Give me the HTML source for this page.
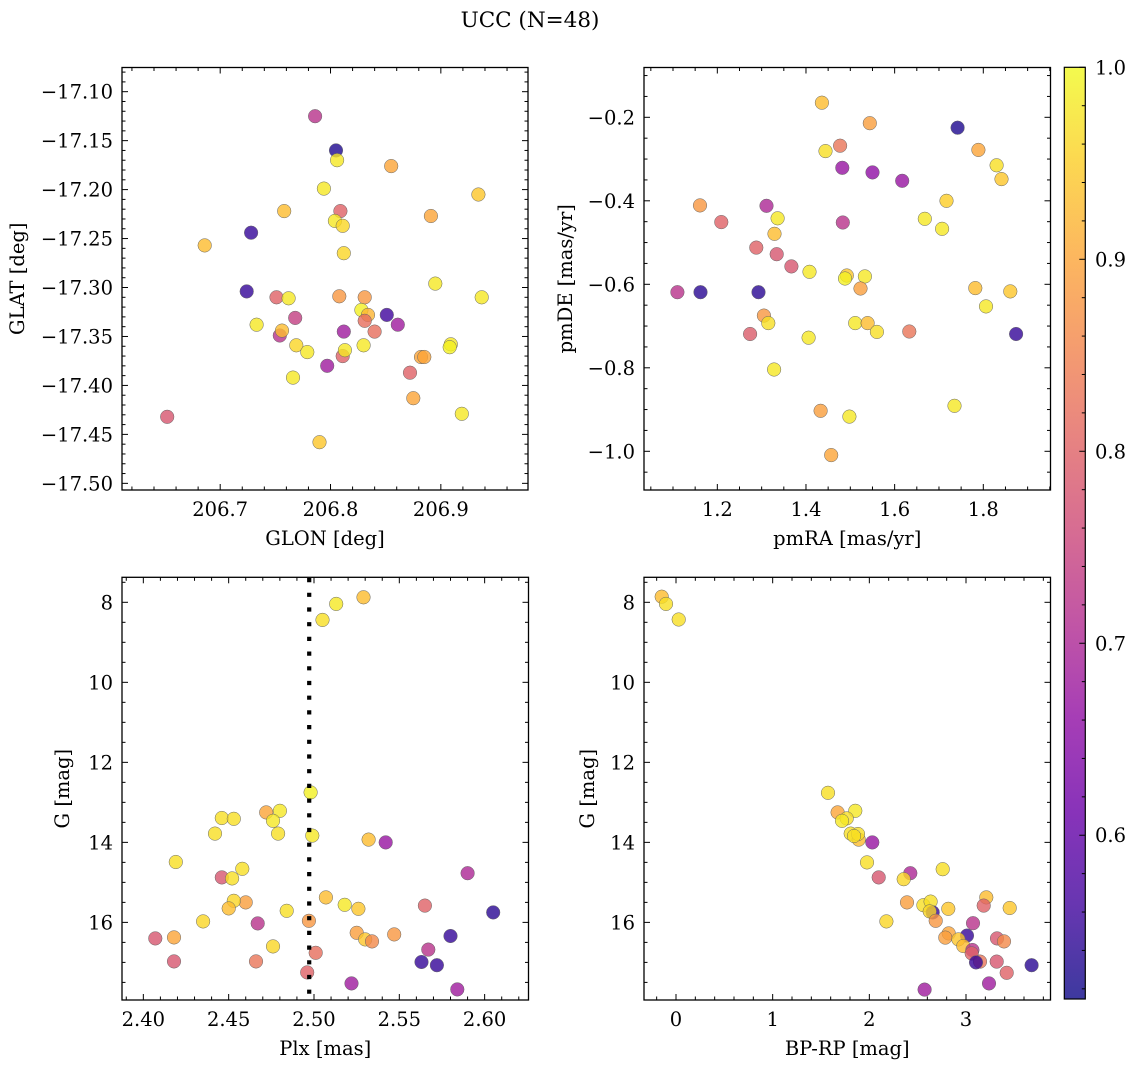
<!DOCTYPE html>
<html><head><meta charset="utf-8">
<style>
html,body{margin:0;padding:0;background:#fff;}
svg{display:block;font-family:"DejaVu Serif","Liberation Serif",serif;}
</style></head>
<body>
<svg id="fig" width="1136" height="1067" viewBox="0 0 1136 1067" xmlns="http://www.w3.org/2000/svg">
<rect width="1136" height="1067" fill="#fff"/>
<text x="530" y="27" font-size="21.5" text-anchor="middle">UCC (N=48)</text>
</svg>
<script>
// ---- data ----
const glon = [206.786,206.805,206.806,206.855,206.794,206.934,206.758,206.809,206.804,206.811,206.891,206.728,206.686,206.812,206.724,206.751,206.762,206.808,206.831,206.895,206.937,206.828,206.834,206.831,206.851,206.861,206.840,206.812,206.768,206.733,206.754,206.756,206.769,206.779,206.811,206.813,206.830,206.797,206.766,206.882,206.885,206.909,206.908,206.872,206.875,206.919,206.652,206.790];
const glat = [-17.125,-17.160,-17.170,-17.176,-17.199,-17.205,-17.222,-17.222,-17.232,-17.237,-17.227,-17.244,-17.257,-17.265,-17.304,-17.310,-17.311,-17.309,-17.310,-17.296,-17.310,-17.323,-17.328,-17.334,-17.328,-17.338,-17.345,-17.345,-17.331,-17.338,-17.349,-17.344,-17.359,-17.366,-17.370,-17.364,-17.359,-17.380,-17.392,-17.371,-17.371,-17.358,-17.361,-17.387,-17.413,-17.429,-17.432,-17.458];
const probA = [0.72,0.53,0.98,0.9,0.98,0.94,0.93,0.8,0.98,0.96,0.9,0.55,0.93,0.96,0.55,0.8,0.98,0.88,0.88,0.98,0.98,0.99,0.92,0.82,0.56,0.68,0.82,0.68,0.74,0.98,0.72,0.93,0.96,0.98,0.8,0.98,0.98,0.68,0.98,0.9,0.9,0.98,0.99,0.8,0.9,0.98,0.78,0.94];

const pmra = [1.436,1.544,1.742,1.477,1.444,1.789,1.830,1.841,1.482,1.550,1.617,1.717,1.161,1.311,1.336,1.209,1.483,1.668,1.707,1.329,1.288,1.334,1.367,1.408,1.492,1.488,1.533,1.523,1.782,1.861,1.110,1.162,1.293,1.806,1.305,1.315,1.511,1.539,1.560,1.633,1.274,1.874,1.406,1.328,1.433,1.735,1.498,1.457];
const pmde = [-0.165,-0.214,-0.225,-0.268,-0.281,-0.278,-0.315,-0.348,-0.321,-0.332,-0.352,-0.400,-0.411,-0.412,-0.442,-0.451,-0.452,-0.443,-0.467,-0.479,-0.512,-0.528,-0.557,-0.570,-0.579,-0.586,-0.581,-0.610,-0.609,-0.617,-0.619,-0.619,-0.619,-0.653,-0.675,-0.693,-0.693,-0.693,-0.714,-0.713,-0.719,-0.719,-0.728,-0.804,-0.903,-0.891,-0.917,-1.009];
const probB = [0.93,0.89,0.53,0.83,0.97,0.9,0.97,0.94,0.67,0.66,0.67,0.95,0.88,0.7,0.98,0.8,0.72,0.98,0.98,0.93,0.8,0.78,0.78,0.98,0.94,0.99,0.98,0.89,0.93,0.94,0.72,0.54,0.54,0.98,0.88,0.97,0.98,0.93,0.97,0.83,0.79,0.55,0.98,0.98,0.89,0.98,0.98,0.9];

const plx = [2.529,2.513,2.505,2.498,2.472,2.480,2.476,2.446,2.453,2.442,2.479,2.499,2.532,2.542,2.419,2.590,2.446,2.452,2.458,2.507,2.460,2.453,2.450,2.518,2.526,2.484,2.565,2.605,2.497,2.435,2.467,2.407,2.418,2.525,2.530,2.534,2.547,2.580,2.476,2.501,2.567,2.418,2.466,2.563,2.572,2.496,2.522,2.584];
const gmagC = [7.875,8.04,8.44,12.75,13.25,13.21,13.46,13.39,13.41,13.78,13.78,13.83,13.93,14.0,14.49,14.77,14.875,14.9,14.66,15.375,15.5,15.46,15.65,15.56,15.66,15.71,15.58,15.75,15.96,15.975,16.025,16.4,16.375,16.26,16.425,16.475,16.3,16.34,16.6,16.76,16.68,16.975,16.975,16.99,17.07,17.25,17.525,17.675];
const probC = [0.93,0.98,0.97,0.99,0.9,0.98,0.98,0.97,0.97,0.97,0.97,0.98,0.93,0.67,0.97,0.7,0.78,0.97,0.97,0.93,0.89,0.96,0.93,0.98,0.94,0.97,0.8,0.54,0.88,0.96,0.72,0.78,0.9,0.89,0.94,0.86,0.88,0.55,0.96,0.82,0.72,0.78,0.83,0.55,0.55,0.8,0.68,0.68];
const plxRef = 2.4972;

const bprp = [-0.148,-0.103,0.028,1.572,1.672,1.855,1.766,1.717,1.807,1.890,1.883,1.841,2.031,1.976,2.097,2.424,2.355,2.759,2.390,2.559,2.634,2.655,2.624,2.817,2.686,2.176,3.210,3.183,3.452,3.072,3.010,2.821,2.786,2.921,2.972,3.321,3.393,3.066,3.059,3.145,3.103,3.317,3.679,3.421,3.238,2.572];
const gmagD = [7.86,8.04,8.43,12.76,13.25,13.21,13.4,13.46,13.78,13.93,13.79,13.84,14.0,14.5,14.875,14.77,14.92,14.67,15.5,15.57,15.48,15.75,15.725,15.66,15.96,15.975,15.375,15.58,15.64,16.02,16.33,16.275,16.38,16.425,16.59,16.4,16.475,16.69,16.775,16.98,17.0,16.98,17.07,17.26,17.525,17.68];
const probD = [0.93,0.97,0.97,0.97,0.9,0.98,0.97,0.98,0.97,0.93,0.97,0.97,0.67,0.97,0.78,0.7,0.96,0.97,0.89,0.97,0.97,0.55,0.96,0.94,0.88,0.96,0.93,0.8,0.94,0.72,0.55,0.9,0.89,0.94,0.93,0.78,0.86,0.72,0.8,0.83,0.55,0.78,0.54,0.8,0.68,0.68];

const ticksA_x = [206.7,206.8,206.9], ticksA_y = [-17.10,-17.15,-17.20,-17.25,-17.30,-17.35,-17.40,-17.45,-17.50];
const ticksB_x = [1.2,1.4,1.6,1.8], ticksB_y = [-0.2,-0.4,-0.6,-0.8,-1.0];
const ticksC_x = [2.40,2.45,2.50,2.55,2.60], ticksG = [8,10,12,14,16];
const ticksD_x = [0,1,2,3];
const cbTicks = [0.6,0.7,0.8,0.9,1.0];
const cbMin = 0.5147, cbMax = 1.0;

// ---- helpers ----
const NS = "http://www.w3.org/2000/svg";
const svg = document.getElementById('fig');
const FS = 19.5;
function mk(tag, attrs, parent){ const e=document.createElementNS(NS,tag); for(const k in attrs) e.setAttribute(k,attrs[k]); (parent||svg).appendChild(e); return e; }
const plasma = [[13,8,135],[65,4,157],[106,0,168],[143,13,164],[177,42,144],[204,71,120],[225,100,98],[242,132,75],[252,166,54],[252,206,37],[240,249,33]];
function cmap(v){ let t=(v-cbMin)/(cbMax-cbMin); t=Math.max(0,Math.min(1,t)); const f=t*10, i=Math.min(9,Math.floor(f)), r=f-i; const a=plasma[i], b=plasma[i+1]; return `rgb(${Math.round(a[0]+(b[0]-a[0])*r)},${Math.round(a[1]+(b[1]-a[1])*r)},${Math.round(a[2]+(b[2]-a[2])*r)})`; }
function fmt(v, d){ const s=Math.abs(v).toFixed(d); return (v<0?'\u2212':'')+s; }

function panel(name, box, xd, yd, xt, yt, xminor, yminor, xdec, ydec, xs, ys, ps, xlabel, ylabel){
  const g = mk('g',{});
  
  
  const X = v => box.x0 + (v-xd[0])/(xd[1]-xd[0])*(box.x1-box.x0);
  const Y = v => box.y0 + (v-yd[0])/(yd[1]-yd[0])*(box.y1-box.y0);
  const pg = mk('g',{},g);
  
  
  for(let i=0;i<xs.length;i++){
    const c = mk('circle',{cx:X(xs[i]).toFixed(1), cy:Y(ys[i]).toFixed(1), r:6.8, fill:cmap(ps[i]), 'fill-opacity':0.8, stroke:'#666', 'stroke-width':0.5}, pg);
    
    
  }
  const fr = mk('rect',{x:box.x0,y:box.y0,width:box.x1-box.x0,height:box.y1-box.y0,fill:'none',stroke:'#000','stroke-width':1.3},g);
  
  
  const tg = mk('g',{stroke:'#000','stroke-width':1},g);
  const xlo=Math.min(xd[0],xd[1]), xhi=Math.max(xd[0],xd[1]), ylo=Math.min(yd[0],yd[1]), yhi=Math.max(yd[0],yd[1]);
  for(let k=Math.ceil(xlo/xminor-1e-6); k*xminor<=xhi+1e-9; k++){
    const v=k*xminor, px=X(v);
    const major = xt.some(t=>Math.abs(t-v)<xminor/10);
    const L = major?6:3.5;
    mk('line',{x1:px,y1:box.y1,x2:px,y2:box.y1-L},tg); mk('line',{x1:px,y1:box.y0,x2:px,y2:box.y0+L},tg);
  }
  for(let k=Math.ceil(ylo/yminor-1e-6); k*yminor<=yhi+1e-9; k++){
    const v=k*yminor, py=Y(v);
    const major = yt.some(t=>Math.abs(t-v)<yminor/10);
    const L = major?6:3.5;
    mk('line',{x1:box.x0,y1:py,x2:box.x0+L,y2:py},tg); mk('line',{x1:box.x1,y1:py,x2:box.x1-L,y2:py},tg);
  }
  xt.forEach(v=>{ const t=mk('text',{x:X(v),y:box.y1+26,'font-size':FS,'text-anchor':'middle'},g); t.textContent=fmt(v,xdec);   });
  yt.forEach(v=>{ const t=mk('text',{x:box.x0-9,y:Y(v)+7,'font-size':FS,'text-anchor':'end'},g); t.textContent=fmt(v,ydec);   });
  const xl=mk('text',{x:(box.x0+box.x1)/2,y:box.y1+55,'font-size':FS,'text-anchor':'middle'},g); xl.textContent=xlabel;
   
  const yx = box.ylabx, yy=(box.y0+box.y1)/2;
  const yl=mk('text',{x:yx,y:yy,'font-size':FS,'text-anchor':'middle',transform:`rotate(-90 ${yx} ${yy})`},g); yl.textContent=ylabel;
   
  return {X,Y,g};
}

panel('glon-glat-panel',{x0:122,x1:528,y0:67.5,y1:490,ylabx:24},[206.611,206.979],[-17.0753,-17.5068],ticksA_x,ticksA_y,0.02,0.01,1,2,glon,glat,probA,'GLON [deg]','GLAT [deg]');
panel('pm-panel',{x0:644,x1:1050.5,y0:67.5,y1:490,ylabx:572},[1.0346,1.9516],[-0.0807,-1.0927],ticksB_x,ticksB_y,0.05,0.05,1,1,pmra,pmde,probB,'pmRA [mas/yr]','pmDE [mas/yr]');
const pc = panel('plx-g-panel',{x0:122,x1:528.5,y0:577.3,y1:1000,ylabx:69},[2.3875,2.6257],[7.375,17.94],ticksC_x,ticksG,0.01,0.5,2,0,plx,gmagC,probC,'Plx [mas]','G [mag]');
panel('cmd-panel',{x0:644,x1:1050.5,y0:577.3,y1:1000,ylabx:594},[-0.331,3.874],[7.375,17.94],ticksD_x,ticksG,0.2,0.5,0,0,bprp,gmagD,probD,'BP-RP [mag]','G [mag]');

const rl = mk('line',{x1:pc.X(plxRef),x2:pc.X(plxRef),y1:578,y2:1000,stroke:'#000','stroke-width':4.2,'stroke-dasharray':'4.2 10.5'});



const cb = {x0:1064.3,x1:1085.3,y0:67.3,y1:999};
const defs = mk('defs',{});
const grad = mk('linearGradient',{id:'cbg',x1:0,y1:1,x2:0,y2:0},defs);
for(let i=0;i<=20;i++){ const v=cbMin+(cbMax-cbMin)*i/20; mk('stop',{offset:(i/20),'stop-color':cmap(v),'stop-opacity':0.8},grad); }
const cbr = mk('rect',{x:cb.x0,y:cb.y0,width:cb.x1-cb.x0,height:cb.y1-cb.y0,fill:'url(#cbg)',stroke:'#000','stroke-width':1.2});


const CY = v => cb.y0 + (cbMax-v)/(cbMax-cbMin)*(cb.y1-cb.y0);
for(let k=26;k<=50;k++){ const v=k*0.02; if(v<cbMin) continue; const major = Math.abs(v*10-Math.round(v*10))<1e-6; mk('line',{x1:cb.x1,x2:cb.x1-(major?6:3.5),y1:CY(v),y2:CY(v),stroke:'#000','stroke-width':1}); }
cbTicks.forEach(v=>{ const t=mk('text',{x:1095,y:CY(v)+7,'font-size':FS}); t.textContent=v.toFixed(1);   });
</script>
</body></html>
